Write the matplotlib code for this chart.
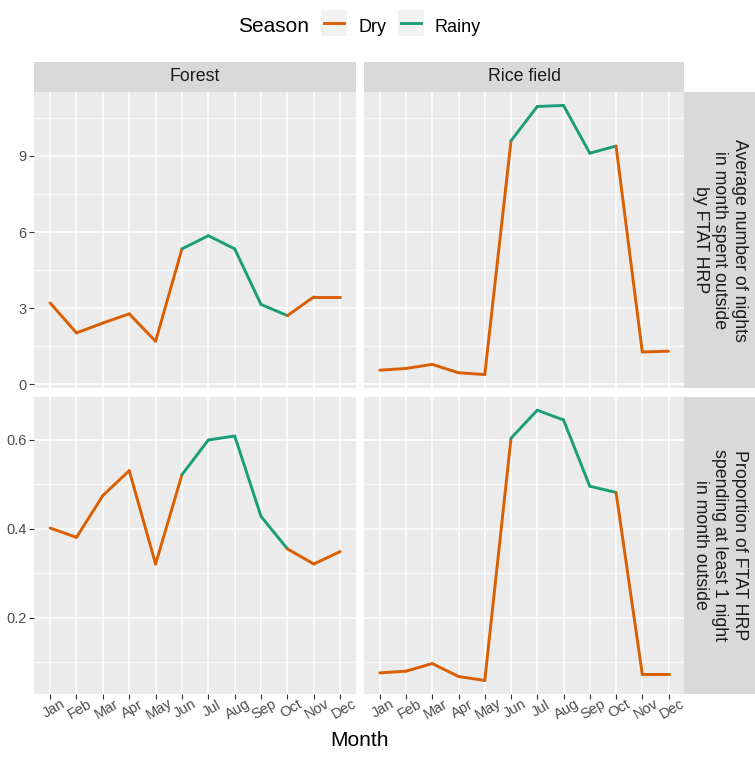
import numpy as np
import matplotlib.pyplot as plt
from matplotlib.patches import Rectangle
from matplotlib.lines import Line2D

plt.rcParams['font.family'] = ['Liberation Sans', 'DejaVu Sans']

months = ['Jan', 'Feb', 'Mar', 'Apr', 'May', 'Jun', 'Jul', 'Aug', 'Sep', 'Oct', 'Nov', 'Dec']
season = ['Dry', 'Dry', 'Dry', 'Dry', 'Dry', 'Rainy', 'Rainy', 'Rainy', 'Rainy', 'Dry', 'Dry', 'Dry']

# average nights outside per month
forest_nights = [3.21, 2.03, 2.42, 2.78, 1.70, 5.34, 5.86, 5.34, 3.15, 2.71, 3.45, 3.45]
rice_nights = [0.56, 0.63, 0.79, 0.46, 0.39, 9.60, 10.95, 10.99, 9.11, 9.39, 1.28, 1.31]

# proportion spending at least one night outside
forest_prop = [0.402, 0.381, 0.475, 0.531, 0.321, 0.522, 0.600, 0.609, 0.428, 0.355, 0.321, 0.349]
rice_prop = [0.076, 0.080, 0.097, 0.068, 0.059, 0.604, 0.667, 0.645, 0.496, 0.482, 0.073, 0.073]

sites = ['Forest', 'Rice field']
row_labels = ['Average number of nights\nin month spent outside\nby FTAT HRP',
              'Proportion of FTAT HRP\nspending at least 1 night\nin month outside']
row_data = [[forest_nights, rice_nights], [forest_prop, rice_prop]]
row_ticks = [[0, 3, 6, 9], [0.2, 0.4, 0.6]]
row_minor = [[1.5, 4.5, 7.5, 10.5], [0.1, 0.3, 0.5]]
row_ticklabels = [['0', '3', '6', '9'], ['0.2', '0.4', '0.6']]

season_colors = {'Dry': '#D95F02', 'Rainy': '#1B9E77'}

W, H = 755, 757
fig = plt.figure(figsize=(W / 100, H / 100), dpi=100)


def fx(p):
    return p / W


def fy(p):
    return 1 - p / H


panel_x = [(34.3, 356.0), (364.0, 684.3)]
panel_y = [(92.0, 388.0), (396.7, 694.0)]

x = np.arange(1, len(months) + 1)

for r in range(2):
    vals_all = np.concatenate([np.array(v) for v in row_data[r]])
    lo, hi = vals_all.min(), vals_all.max()
    pad = (hi - lo) * 0.05
    for c in range(2):
        x0, x1 = panel_x[c]
        y0, y1 = panel_y[r]
        ax = fig.add_axes([fx(x0), fy(y1), fx(x1) - fx(x0), (y1 - y0) / H])
        ax.set_facecolor('#EBEBEB')
        for s in ax.spines.values():
            s.set_visible(False)
        ax.set_xlim(0.4, 12.6)
        ax.set_ylim(lo - pad, hi + pad)
        ax.set_yticks(row_ticks[r])
        ax.set_yticks(row_minor[r], minor=True)
        ax.set_xticks(x)
        ax.grid(which='major', color='white', lw=1.1)
        ax.grid(which='minor', axis='y', color='white', lw=0.55)
        ax.set_axisbelow(True)
        ax.tick_params(which='minor', length=0)
        ax.tick_params(which='major', length=3.5, width=0.8, color='#333333',
                       labelcolor='#4D4D4D', labelsize=10.5, pad=2)
        if c == 0:
            ax.set_yticklabels(row_ticklabels[r])
        else:
            ax.tick_params(axis='y', length=0, labelleft=False)
        if r == 1:
            ax.set_xticklabels(months, rotation=30, ha='center', va='top',
                               rotation_mode='anchor')
            ax.tick_params(axis='x', pad=3)
        else:
            ax.tick_params(axis='x', length=0, labelbottom=False)

        # segments coloured by season of the starting month
        vals = row_data[r][c]
        for i in range(len(months) - 1):
            ax.plot(x[i:i + 2], vals[i:i + 2], color=season_colors[season[i]],
                    lw=2.1, solid_capstyle='round')

# column strips
for c in range(2):
    x0, x1 = panel_x[c]
    sax = fig.add_axes([fx(x0), fy(92.0), fx(x1) - fx(x0), 30.3 / H])
    sax.set_facecolor('#D9D9D9')
    sax.set_xticks([])
    sax.set_yticks([])
    for s in sax.spines.values():
        s.set_visible(False)
    sax.text(0.5, 0.5, sites[c], ha='center', va='center', fontsize=12.8,
             color='#1A1A1A', transform=sax.transAxes)

# row strips
for r in range(2):
    y0, y1 = panel_y[r]
    sax = fig.add_axes([fx(684.3), fy(y1), 1 - fx(684.3), (y1 - y0) / H])
    sax.set_facecolor('#D9D9D9')
    sax.set_xticks([])
    sax.set_yticks([])
    for s in sax.spines.values():
        s.set_visible(False)
    sax.text(0.5, 0.5, row_labels[r], ha='center', va='center', fontsize=12.8,
             color='#1A1A1A', rotation=270, linespacing=1.2,
             multialignment='center', transform=sax.transAxes)

fig.text(fx(359), fy(741), 'Month', ha='center', va='center', fontsize=15)

# legend on top
fig.text(fx(238), fy(32), 'Season', ha='left', va='baseline', fontsize=15)
keys = [(321, 'Dry', 358), (398, 'Rainy', 435)]
for kx, lab, tx in keys:
    fig.add_artist(Rectangle((fx(kx), fy(36)), 26 / W, 26 / H, transform=fig.transFigure,
                             facecolor='#F2F2F2', edgecolor='none'))
    fig.add_artist(Line2D([fx(kx + 3), fx(kx + 23)], [fy(23), fy(23)], transform=fig.transFigure,
                          color=season_colors[lab], lw=2.1))
    fig.text(fx(tx), fy(32), lab, ha='left', va='baseline', fontsize=13)

plt.savefig('out.png', dpi=100)
